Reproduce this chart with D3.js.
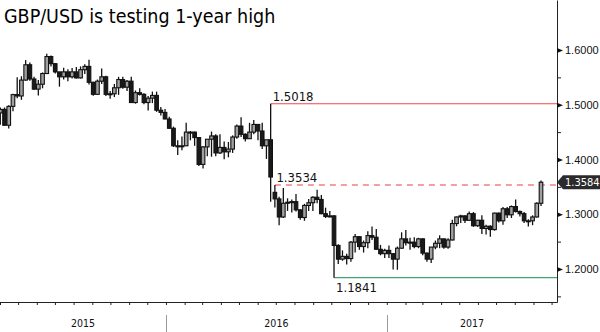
<!DOCTYPE html>
<html>
<head>
<meta charset="utf-8">
<script src="https://cdn.jsdelivr.net/npm/d3@7"></script>
<style>
  html, body { margin: 0; padding: 0; background: #fff; }
  svg { display: block; font-family: "DejaVu Sans Condensed", "DejaVu Sans", sans-serif; font-stretch: condensed; }
</style>
</head>
<body>
<svg id="chart" width="600" height="332"></svg>
<script>
// GBP/USD weekly candles, week starting Monday 30 Mar 2015 through 11 Sep 2017
const titleText = "GBP/USD is testing 1-year high";
const firstMonday = new Date(2015, 2, 30);
const lastMonday = new Date(2017, 8, 11);
const levelsFrom = new Date(2016, 0, 1);   // reference levels are taken from 2016 onwards

const open = [
  1.4850, 1.4915, 1.4625, 1.4970, 1.5185, 1.5160, 1.5450, 1.5730, 1.5470, 1.5285,
  1.5375, 1.5570, 1.5880, 1.5750, 1.5600, 1.5510, 1.5600, 1.5510, 1.5600, 1.5490,
  1.5640, 1.5700, 1.5410, 1.5190, 1.5430, 1.5510, 1.5190, 1.5200, 1.5310, 1.5460,
  1.5320, 1.5430, 1.5040, 1.5220, 1.5190, 1.5040, 1.5120, 1.5170, 1.4900, 1.4860,
  1.4740, 1.4570, 1.4250, 1.4250, 1.4250, 1.4500, 1.4500, 1.4400, 1.3910, 1.4230,
  1.4370, 1.4430, 1.4120, 1.4220, 1.4140, 1.4190, 1.4410, 1.4610, 1.4460, 1.4380,
  1.4500, 1.4640, 1.4520, 1.4250, 1.4360, 1.3400, 1.3280, 1.2950, 1.3200, 1.3220,
  1.3230, 1.3080, 1.2940, 1.3160, 1.3210, 1.3310, 1.3270, 1.3010, 1.2960, 1.2970,
  1.2430, 1.2180, 1.2230, 1.2190, 1.2490, 1.2590, 1.2410, 1.2480, 1.2610, 1.2580,
  1.2360, 1.2280, 1.2340, 1.2280, 1.2180, 1.2380, 1.2550, 1.2480, 1.2490, 1.2410,
  1.2550, 1.2290, 1.2180, 1.2400, 1.2470, 1.2550, 1.2400, 1.2530, 1.2830, 1.2950,
  1.2970, 1.2890, 1.3010, 1.2790, 1.2890, 1.2740, 1.2780, 1.2720, 1.3020, 1.2880,
  1.3100, 1.2990, 1.3140, 1.3050, 1.3010, 1.2880, 1.2880, 1.2950, 1.3200
];
const high = [
  1.4950, 1.4950, 1.4990, 1.5200, 1.5500, 1.5520, 1.5815, 1.5770, 1.5510, 1.5450,
  1.5590, 1.5930, 1.5900, 1.5760, 1.5600, 1.5675, 1.5650, 1.5670, 1.5690, 1.5700,
  1.5740, 1.5820, 1.5420, 1.5460, 1.5660, 1.5530, 1.5250, 1.5380, 1.5510, 1.5510,
  1.5450, 1.5510, 1.5260, 1.5300, 1.5210, 1.5160, 1.5240, 1.5240, 1.4960, 1.4920,
  1.4780, 1.4600, 1.4350, 1.4420, 1.4670, 1.4520, 1.4510, 1.4410, 1.4240, 1.4360,
  1.4510, 1.4460, 1.4460, 1.4330, 1.4320, 1.4440, 1.4640, 1.4770, 1.4480, 1.4670,
  1.4720, 1.4650, 1.4670, 1.4350, 1.5018, 1.3534, 1.3320, 1.3480, 1.3290, 1.3270,
  1.3370, 1.3090, 1.3190, 1.3280, 1.3330, 1.3445, 1.3350, 1.3120, 1.3060, 1.2980,
  1.2450, 1.2340, 1.2280, 1.2510, 1.2640, 1.2600, 1.2520, 1.2690, 1.2775, 1.2730,
  1.2440, 1.2370, 1.2430, 1.2280, 1.2410, 1.2670, 1.2710, 1.2570, 1.2580, 1.2570,
  1.2560, 1.2300, 1.2400, 1.2520, 1.2615, 1.2550, 1.2560, 1.2900, 1.2960, 1.2990,
  1.2980, 1.3048, 1.3040, 1.2900, 1.2980, 1.2810, 1.2800, 1.3030, 1.3030, 1.3130,
  1.3130, 1.3160, 1.3270, 1.3070, 1.3040, 1.2910, 1.2980, 1.3220, 1.3615
];
const low = [
  1.4635, 1.4620, 1.4565, 1.4880, 1.5120, 1.5090, 1.5440, 1.5440, 1.5270, 1.5170,
  1.5300, 1.5560, 1.5700, 1.5570, 1.5330, 1.5460, 1.5430, 1.5480, 1.5480, 1.5480,
  1.5560, 1.5370, 1.5165, 1.5180, 1.5380, 1.5160, 1.5110, 1.5140, 1.5180, 1.5290,
  1.5250, 1.5030, 1.5020, 1.5170, 1.5010, 1.4895, 1.5030, 1.4870, 1.4805, 1.4735,
  1.4560, 1.4230, 1.4080, 1.4170, 1.4250, 1.4350, 1.4250, 1.3880, 1.3835, 1.4060,
  1.4050, 1.4060, 1.4100, 1.4005, 1.4040, 1.4120, 1.4380, 1.4410, 1.4330, 1.4380,
  1.4460, 1.4350, 1.4190, 1.4010, 1.3229, 1.3122, 1.2798, 1.2930, 1.3060, 1.3030,
  1.3050, 1.2900, 1.2880, 1.3060, 1.3060, 1.3200, 1.3000, 1.2930, 1.2940, 1.1841,
  1.2090, 1.2150, 1.2080, 1.2130, 1.2300, 1.2350, 1.2300, 1.2380, 1.2530, 1.2350,
  1.2250, 1.2200, 1.2200, 1.1990, 1.1986, 1.2370, 1.2430, 1.2350, 1.2380, 1.2380,
  1.2250, 1.2130, 1.2110, 1.2360, 1.2380, 1.2370, 1.2370, 1.2520, 1.2780, 1.2840,
  1.2840, 1.2880, 1.2770, 1.2770, 1.2640, 1.2630, 1.2590, 1.2700, 1.2850, 1.2810,
  1.2930, 1.2930, 1.3030, 1.2960, 1.2840, 1.2775, 1.2800, 1.2940, 1.3150
];
const close = [
  1.4915, 1.4625, 1.4970, 1.5185, 1.5160, 1.5450, 1.5730, 1.5470, 1.5285, 1.5375,
  1.5570, 1.5880, 1.5750, 1.5600, 1.5510, 1.5600, 1.5510, 1.5600, 1.5490, 1.5640,
  1.5700, 1.5410, 1.5190, 1.5430, 1.5510, 1.5190, 1.5200, 1.5310, 1.5460, 1.5320,
  1.5430, 1.5040, 1.5220, 1.5190, 1.5040, 1.5120, 1.5170, 1.4900, 1.4860, 1.4740,
  1.4570, 1.4250, 1.4250, 1.4250, 1.4500, 1.4500, 1.4400, 1.3910, 1.4230, 1.4370,
  1.4430, 1.4120, 1.4220, 1.4140, 1.4190, 1.4410, 1.4610, 1.4460, 1.4380, 1.4500,
  1.4640, 1.4520, 1.4250, 1.4360, 1.3680, 1.3280, 1.2950, 1.3200, 1.3220, 1.3230,
  1.3080, 1.2940, 1.3160, 1.3210, 1.3310, 1.3270, 1.3010, 1.2960, 1.2970, 1.2430,
  1.2180, 1.2230, 1.2190, 1.2490, 1.2590, 1.2410, 1.2480, 1.2610, 1.2580, 1.2360,
  1.2280, 1.2340, 1.2280, 1.2180, 1.2380, 1.2550, 1.2480, 1.2490, 1.2410, 1.2550,
  1.2290, 1.2180, 1.2400, 1.2470, 1.2550, 1.2400, 1.2530, 1.2830, 1.2950, 1.2970,
  1.2890, 1.3010, 1.2790, 1.2890, 1.2740, 1.2780, 1.2720, 1.3020, 1.2880, 1.3100,
  1.2990, 1.3140, 1.3050, 1.3010, 1.2880, 1.2880, 1.2950, 1.3200, 1.3584
];

const majorTicks = [1.2, 1.3, 1.4, 1.5, 1.6];
const minorTicks = [1.15, 1.25, 1.35, 1.45, 1.55];
const yearLabels = ["2015", "2016", "2017"];

// ---- build rows ----
const weeks = d3.timeMonday.range(firstMonday, d3.timeDay.offset(lastMonday, 1));
const n = Math.min(weeks.length, open.length, high.length, low.length, close.length);
const candles = d3.range(n).map(i => ({
  date: weeks[i],
  mid: d3.timeHour.offset(weeks[i], 60),   // middle of the trading week
  o: open[i], h: high[i], l: low[i], c: close[i]
}));

// ---- layout ----
const svg = d3.select("#chart");
const plotRight = 557, plotBottom = 302;

const x = d3.scaleTime()
  .domain([new Date(2015, 3, 1), new Date(2017, 9, 10)])
  .range([0, plotRight]);
const y = d3.scaleLinear()
  .domain([1.1397, 1.6913])
  .range([plotBottom, 0]);

// title
svg.append("text")
  .attr("x", 4).attr("y", 22.5)
  .attr("font-size", 19.5)
  .attr("fill", "#000")
  .text(titleText);

// clip for the price area
svg.append("clipPath").attr("id", "plotClip")
  .append("rect").attr("x", 0).attr("y", 0).attr("width", plotRight).attr("height", plotBottom);

// ---- reference levels (from 2016 on) ----
const recentIdx = d3.range(n).filter(i => candles[i].date >= levelsFrom);
const iPeak = recentIdx[d3.maxIndex(recentIdx, i => candles[i].h)];
const iTrough = recentIdx[d3.minIndex(recentIdx, i => candles[i].l)];
const iPost = iPeak + 1;
const last = candles[candles.length - 1];

const levels = svg.append("g");
levels.append("line")
  .attr("x1", x(candles[iPeak].mid)).attr("x2", plotRight)
  .attr("y1", y(candles[iPeak].h)).attr("y2", y(candles[iPeak].h))
  .attr("stroke", "#f04848").attr("stroke-width", 1.2);
levels.append("line")
  .attr("x1", x(candles[iPost].mid)).attr("x2", plotRight)
  .attr("y1", y(candles[iPost].h)).attr("y2", y(candles[iPost].h))
  .attr("stroke", "#e84040").attr("stroke-width", 1.2)
  .attr("stroke-dasharray", "6,5");
levels.append("line")
  .attr("x1", x(candles[iTrough].mid)).attr("x2", plotRight)
  .attr("y1", y(candles[iTrough].l)).attr("y2", y(candles[iTrough].l))
  .attr("stroke", "#3fa672").attr("stroke-width", 1.2);

// ---- candles ----
const bodyW = 3.6;
const cg = svg.append("g").attr("clip-path", "url(#plotClip)");
const cs = cg.selectAll("g.candle").data(candles).join("g").attr("class", "candle");
cs.append("line")
  .attr("x1", d => x(d.mid)).attr("x2", d => x(d.mid))
  .attr("y1", d => y(d.h)).attr("y2", d => y(d.l))
  .attr("stroke", "#111").attr("stroke-width", 1.3);
cs.append("rect")
  .attr("x", d => x(d.mid) - bodyW / 2)
  .attr("width", bodyW)
  .attr("y", d => y(Math.max(d.o, d.c)))
  .attr("height", d => Math.max(1, Math.abs(y(d.o) - y(d.c))))
  .attr("fill", d => d.c >= d.o ? "#a0a0a0" : "#1a1a1a")
  .attr("stroke", "#111").attr("stroke-width", 1.1);

// ---- level labels ----
const fmt = d3.format(".4f");
const lbl = svg.append("g").attr("font-size", 13).attr("fill", "#111");
lbl.append("text")
  .attr("x", x(candles[iPeak].mid) + 2).attr("y", y(candles[iPeak].h) - 3)
  .text(fmt(candles[iPeak].h));
lbl.append("text")
  .attr("x", x(candles[iPost].mid) + 1.5).attr("y", y(candles[iPost].h) - 3)
  .text(fmt(candles[iPost].h));
lbl.append("text")
  .attr("x", x(candles[iTrough].mid) + 2).attr("y", y(candles[iTrough].l) + 14.5)
  .text(fmt(candles[iTrough].l));

// ---- bottom time axis ----
const xAxis = d3.axisBottom(x)
  .ticks(d3.timeMonth.every(1))
  .tickSize(3).tickSizeOuter(0)
  .tickFormat("");
const gx = svg.append("g").attr("transform", `translate(0,${plotBottom})`).call(xAxis);
gx.select(".domain").attr("stroke", "#222");
gx.selectAll(".tick line").attr("stroke", "#222");

const yearStarts = [new Date(2016, 0, 1), new Date(2017, 0, 1)];
svg.append("g").selectAll("line").data(yearStarts).join("line")
  .attr("x1", d => Math.round(x(d)) + 0.5).attr("x2", d => Math.round(x(d)) + 0.5)
  .attr("y1", 315).attr("y2", 332)
  .attr("stroke", "#9a9a9a").attr("stroke-width", 1);

const bounds = [0, x(yearStarts[0]), x(yearStarts[1]), plotRight];
svg.append("g").attr("font-size", 10.5).attr("fill", "#111").attr("text-anchor", "middle")
  .selectAll("text").data(yearLabels).join("text")
  .attr("x", (d, i) => (bounds[i] + bounds[i + 1]) / 2)
  .attr("y", 327)
  .text(d => d);

// ---- right price axis ----
const yAxis = d3.axisRight(y)
  .tickValues(majorTicks)
  .tickFormat(fmt)
  .tickSize(0).tickSizeOuter(0).tickPadding(8);
const gy = svg.append("g").attr("transform", `translate(${plotRight},0)`).call(yAxis);
gy.select(".domain").attr("stroke", "#222");
gy.selectAll(".tick text").attr("font-size", 11).attr("fill", "#111")
  .attr("font-family", null);
gy.selectAll(".tick").append("path")
  .attr("d", "M0,-2.6L6,0L0,2.6Z")
  .attr("fill", "#111");

const yMinor = d3.axisRight(y).tickValues(minorTicks).tickSize(4).tickFormat("");
const gm = svg.append("g").attr("transform", `translate(${plotRight},0)`).call(yMinor);
gm.select(".domain").remove();
gm.selectAll(".tick line").attr("stroke", "#222");

// last price tag
const ty = y(last.c);
const tag = svg.append("g");
tag.append("path")
  .attr("d", `M${plotRight},${ty}L${plotRight + 6},${ty - 7}L600,${ty - 7}L600,${ty + 7}L${plotRight + 6},${ty + 7}Z`)
  .attr("fill", "#2b2b2b");
tag.append("text")
  .attr("x", plotRight + 8).attr("y", ty + 4)
  .attr("font-size", 11).attr("fill", "#fff")
  .text(fmt(last.c));
</script>
</body>
</html>
